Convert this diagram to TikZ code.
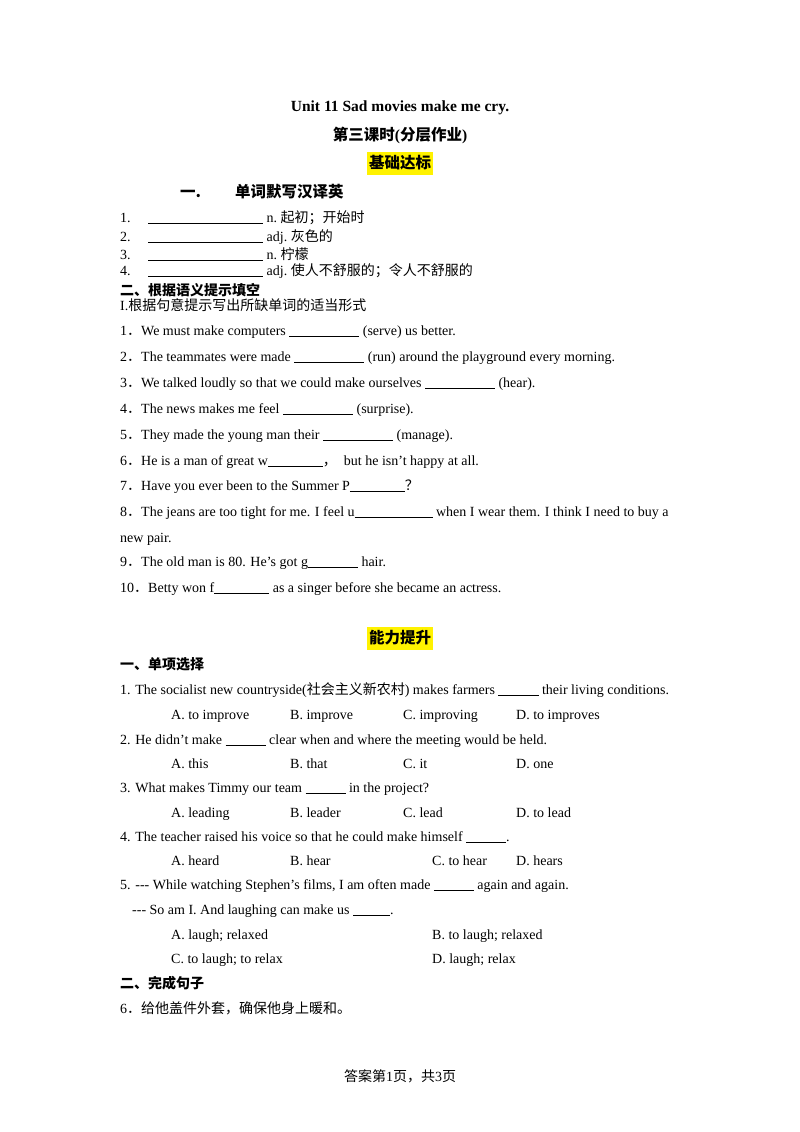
\documentclass[tikz,border=0pt]{standalone}
\usepackage{fontspec}
\setmainfont{Liberation Serif}
\newfontfamily\cjk{Noto Sans CJK SC}
\newcommand{\bl}[1]{\rule[-1.5pt]{#1pt}{0.5pt}}
\newcommand{\cj}[1]{{\cjk #1}}
\begin{document}
\begin{tikzpicture}[x=1pt,y=-1pt,
  t/.style={anchor=base west,inner sep=0,font=\fontsize{14}{16}\selectfont},
  h/.style={anchor=base,inner sep=0,font=\fontsize{15.5}{17}\selectfont\bfseries}]
\useasboundingbox (0,0) rectangle (800,1132);
\fill[white] (0,0) rectangle (800,1132);
\fill[yellow] (367,152) rectangle (433,175);
\fill[yellow] (367,627) rectangle (433,650);
\node[h] (title) at (400,111) {Unit 11 Sad movies make me cry.};
\node[h] (sub) at (400,140) {\cj{第三课时}(\cj{分层作业})};
\node[h] (jc) at (400,168) {\cj{基础达标}};
\node[t,font=\fontsize{15.5}{17}\selectfont\bfseries\cjk] (s1) at (180,197) {一.};
\node[t,font=\fontsize{15.5}{17}\selectfont\bfseries\cjk] (s1b) at (235,197) {单词默写汉译英};
\node[t] (w1) at (120,222) {1.};\node[t] (w1b) at (148,222) {\bl{115}\ n.\ \cj{起初；开始时}};
\node[t] (w2) at (120,241) {2.};\node[t] (w2b) at (148,241) {\bl{115}\ adj.\ \cj{灰色的}};
\node[t] (w3) at (120,259) {3.};\node[t] (w3b) at (148,259) {\bl{115}\ n.\ \cj{柠檬}};
\node[t] (w4) at (120,275) {4.};\node[t] (w4b) at (148,275) {\bl{115}\ adj.\ \cj{使人不舒服的；令人不舒服的}};
\node[t,font=\fontsize{14}{16}\selectfont\bfseries\cjk] (s2) at (120,295) {二、根据语义提示填空};
\node[t] (s2b) at (120,310) {I.\cj{根据句意提示写出所缺单词的适当形式}};
\node[t] (q1) at (120,335) {1\cj{．}We must make computers \bl{70} (serve) us better.};
\node[t] (q2) at (120,361) {2\cj{．}The teammates were made \bl{70} (run) around the playground every morning.};
\node[t] (q3) at (120,387) {3\cj{．}We talked loudly so that we could make ourselves \bl{70} (hear).};
\node[t] (q4) at (120,413) {4\cj{．}The news makes me feel \bl{70} (surprise).};
\node[t] (q5) at (120,439) {5\cj{．}They made the young man their \bl{70} (manage).};
\node[t] (q6) at (120,465) {6\cj{．}He is a man of great w\bl{55}\cj{，}\ \ but he isn't happy at all.};
\node[t] (q7) at (120,490) {7\cj{．}Have you ever been to the Summer P\bl{55}\cj{？}};
\node[t] (q8) at (120,516) {8\cj{．}The jeans are too tight for me. I feel u\bl{78} when I wear them. I think I need to buy a};
\node[t] (q8b) at (120,542) {new pair.};
\node[t] (q9) at (120,566) {9\cj{．}The old man is 80. He's got g\bl{50} hair.};
\node[t] (q10) at (120,592) {10\cj{．}Betty won f\bl{55} as a singer before she became an actress.};
\node[h] (nl) at (400,643) {\cj{能力提升}};
\node[t,font=\fontsize{14}{16}\selectfont\bfseries\cjk] (s3) at (120,669) {一、单项选择};
\node[t] (m1) at (120,694) {1. The socialist new countryside(\cj{社会主义新农村}) makes farmers \bl{40} their living conditions.};
\node[t] (m1a) at (171,719) {A. to improve};\node[t] (m1b) at (290,719) {B. improve};\node[t] (m1c) at (403,719) {C. improving};\node[t] (m1d) at (516,719) {D. to improves};
\node[t] (m2) at (120,744) {2. He didn’t make \bl{40} clear when and where the meeting would be held.};
\node[t] (m2a) at (171,768) {A. this};\node[t] (m2b) at (290,768) {B. that};\node[t] (m2c) at (403,768) {C. it};\node[t] (m2d) at (516,768) {D. one};
\node[t] (m3) at (120,792) {3. What makes Timmy our team \bl{40} in the project?};
\node[t] (m3a) at (171,817) {A. leading};\node[t] (m3b) at (290,817) {B. leader};\node[t] (m3c) at (403,817) {C. lead};\node[t] (m3d) at (516,817) {D. to lead};
\node[t] (m4) at (120,841) {4. The teacher raised his voice so that he could make himself \bl{40}.};
\node[t] (m4a) at (171,865) {A. heard};\node[t] (m4b) at (290,865) {B. hear};\node[t] (m4c) at (432,865) {C. to hear};\node[t] (m4d) at (516,865) {D. hears};
\node[t] (m5) at (120,889) {5. -{}-{}- While watching Stephen’s films, I am often made \bl{40} again and again.};
\node[t] (m5b) at (132,914) {-{}-{}- So am I. And laughing can make us \bl{37}.};
\node[t] (m5a1) at (171,939) {A. laugh; relaxed};\node[t] (m5a2) at (432,939) {B. to laugh; relaxed};
\node[t] (m5a3) at (171,963) {C. to laugh; to relax};\node[t] (m5a4) at (432,963) {D. laugh; relax};
\node[t,font=\fontsize{14}{16}\selectfont\bfseries\cjk] (s4) at (120,988) {二、完成句子};
\node[t] (c6) at (120,1013) {6\cj{．}\cj{给他盖件外套，确保他身上暖和。}};
\node[anchor=base,inner sep=0,font=\fontsize{14}{16}\selectfont] (foot) at (400,1081) {\cj{答案第}1\cj{页，共}3\cj{页}};
\end{tikzpicture}
\end{document}
